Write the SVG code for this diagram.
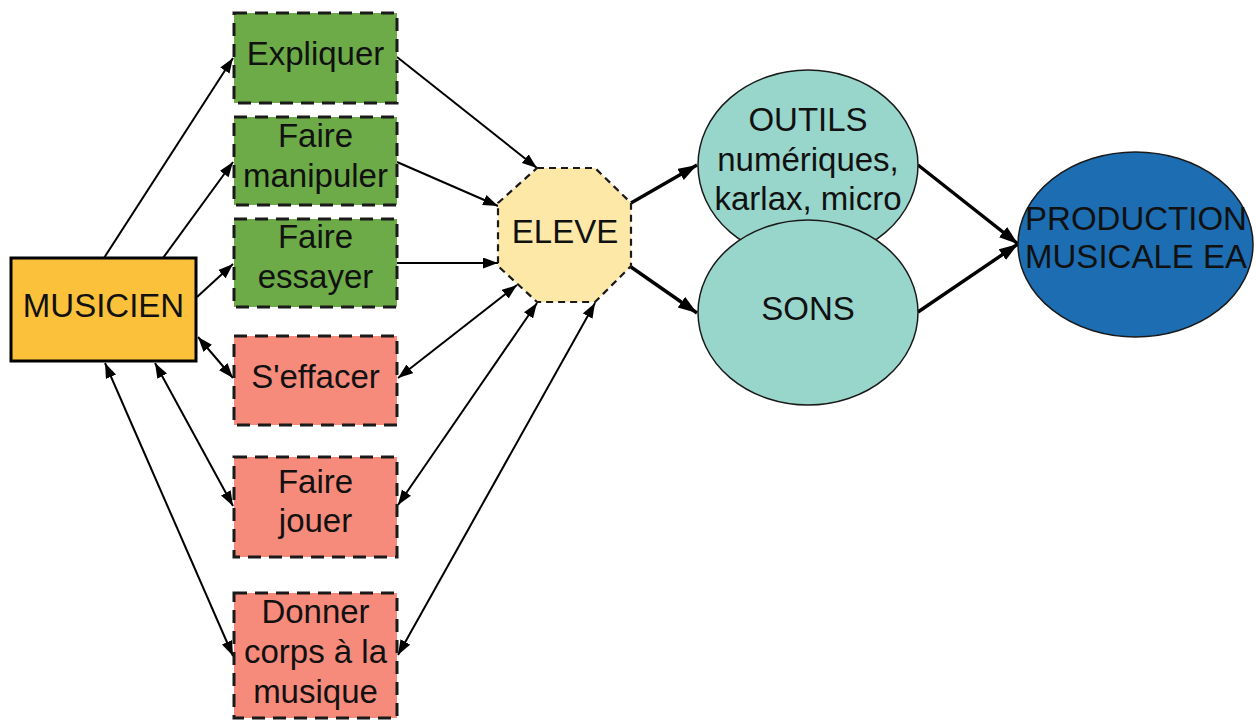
<svg xmlns="http://www.w3.org/2000/svg" width="1256" height="720" viewBox="0 0 1256 720">
<style>
text{font-family:"Liberation Sans",Arial,sans-serif;font-size:33px;fill:#111;text-anchor:middle}
.green{fill:#6cab47;stroke:#1a1a1a;stroke-width:3;stroke-dasharray:13 8}
.pink{fill:#f68b7c;stroke:#1a1a1a;stroke-width:3;stroke-dasharray:13 8}
.c{fill:none;stroke:#000;stroke-width:2}
.t{fill:none;stroke:#000;stroke-width:3.4}
</style>
<defs>
<marker id="a" markerUnits="userSpaceOnUse" markerWidth="16" markerHeight="12" refX="15" refY="5.5" orient="auto-start-reverse"><path d="M0,0 L15,5.5 L0,11 z" fill="#000"/></marker>
<marker id="b" markerUnits="userSpaceOnUse" markerWidth="20" markerHeight="14" refX="19" refY="6.5" orient="auto-start-reverse"><path d="M0,0 L19,6.5 L0,13 z" fill="#000"/></marker>
</defs>
<rect width="1256" height="720" fill="#fff"/>
<g id="connectors">
<path class="c" d="M104,258 L233,58" marker-end="url(#a)"/>
<path class="c" d="M163,258 L233,162" marker-end="url(#a)"/>
<path class="c" d="M197,297 L233,264" marker-end="url(#a)"/>
<path class="c" d="M198,337 L233,378" marker-start="url(#a)" marker-end="url(#a)"/>
<path class="c" d="M155,363 L233,506" marker-start="url(#a)" marker-end="url(#a)"/>
<path class="c" d="M105,363 L233,656" marker-start="url(#a)" marker-end="url(#a)"/>
<path class="c" d="M397,57 L537,168" marker-end="url(#a)"/>
<path class="c" d="M397,162 L498,206" marker-end="url(#a)"/>
<path class="c" d="M397,263 L498,263" marker-end="url(#a)"/>
<path class="c" d="M398,378 L517,285" marker-start="url(#a)" marker-end="url(#a)"/>
<path class="c" d="M398,505 L537,303" marker-start="url(#a)" marker-end="url(#a)"/>
<path class="c" d="M398,655 L595,303" marker-start="url(#a)" marker-end="url(#a)"/>
<path class="t" d="M631,203 L697,165" marker-end="url(#b)"/>
<path class="t" d="M631,267 L697,313" marker-end="url(#b)"/>
<path class="t" d="M918,165 L1018,244" marker-end="url(#b)"/>
<path class="t" d="M918,312 L1018,244" marker-end="url(#b)"/>
</g>
<g id="musicien">
<rect x="11" y="258" width="185" height="103" fill="#fbc13b" stroke="#000" stroke-width="3"/>
<text x="103.5" y="317">MUSICIEN</text>
</g>
<g id="expliquer">
<rect class="green" x="234" y="13" width="163" height="90"/>
<text x="315.5" y="65">Expliquer</text>
</g>
<g id="faire-manipuler">
<rect class="green" x="234" y="117" width="163" height="88"/>
<text x="315.5" y="147">Faire</text>
<text x="315.5" y="187">manipuler</text>
</g>
<g id="faire-essayer">
<rect class="green" x="234" y="219" width="163" height="88"/>
<text x="315.5" y="248">Faire</text>
<text x="315.5" y="288">essayer</text>
</g>
<g id="seffacer">
<rect class="pink" x="234" y="336" width="163" height="89"/>
<text x="315.5" y="388">S'effacer</text>
</g>
<g id="faire-jouer">
<rect class="pink" x="234" y="457" width="163" height="100"/>
<text x="315.5" y="493">Faire</text>
<text x="315.5" y="532">jouer</text>
</g>
<g id="donner-corps">
<rect class="pink" x="234" y="593" width="163" height="125"/>
<text x="315.5" y="623">Donner</text>
<text x="315.5" y="663">corps à la</text>
<text x="315.5" y="703">musique</text>
</g>
<g id="eleve">
<polygon points="537,168 595,168 631,203 631,266 595,302 537,302 498,266 498,203" fill="#fde8a8" stroke="#1a1a1a" stroke-width="2.2" stroke-dasharray="7 5"/>
<text x="565" y="243">ELEVE</text>
</g>
<g id="outils">
<ellipse cx="808" cy="165" rx="110" ry="95" fill="#98d5ca" stroke="#1a1a1a" stroke-width="1.5"/>
<text x="808" y="131">OUTILS</text>
<text x="808" y="171">numériques,</text>
<text x="808" y="210">karlax, micro</text>
</g>
<g id="sons">
<ellipse cx="808" cy="312.5" rx="110" ry="92.5" fill="#98d5ca" stroke="#1a1a1a" stroke-width="1.5"/>
<text x="808" y="320">SONS</text>
</g>
<g id="production">
<ellipse cx="1135.5" cy="244.5" rx="117.5" ry="92.5" fill="#1c6db2" stroke="#1a1a1a" stroke-width="1.5"/>
<text x="1136" y="230">PRODUCTION</text>
<text x="1136" y="268">MUSICALE EA</text>
</g>
</svg>
